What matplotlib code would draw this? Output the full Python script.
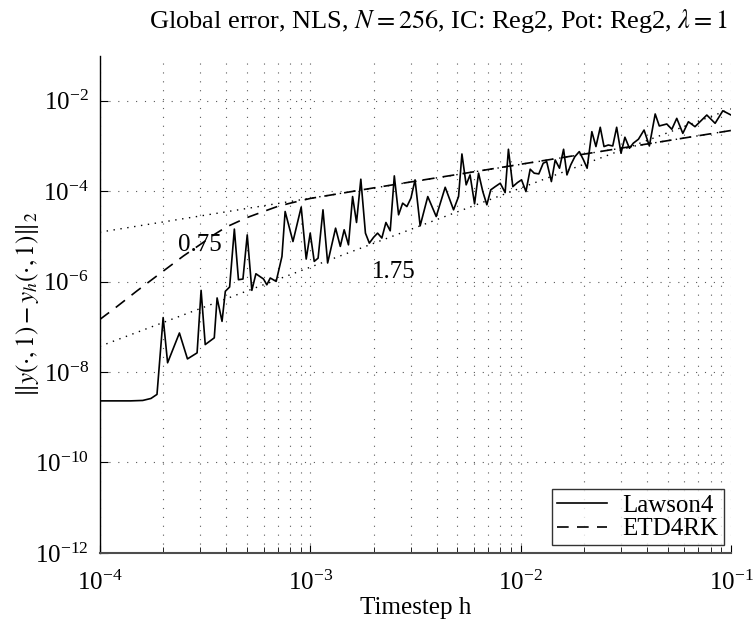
import matplotlib
matplotlib.use('Agg')
import matplotlib.pyplot as plt
import matplotlib.ticker as mticker

# Lawson4 global error vs timestep
lawson_h = [1.0e-4, 1.2e-4, 1.4e-4, 1.6e-4, 1.75e-4, 1.87e-4,
            2.0e-4, 2.1e-4, 2.39e-4, 2.61e-4, 2.9e-4, 3.03e-4, 3.17e-4, 3.5e-4, 3.61e-4, 3.81e-4,
            3.95e-4, 4.14e-4, 4.36e-4, 4.56e-4, 4.79e-4, 5.02e-4, 5.28e-4, 5.52e-4, 6.0e-4, 6.22e-4,
            6.46e-4, 6.89e-4, 7.34e-4, 7.6e-4, 8.28e-4, 9.06e-4, 9.57e-4, 1.0e-3, 1.045e-3, 1.09e-3,
            1.15e-3, 1.21e-3, 1.32e-3, 1.39e-3, 1.45e-3, 1.52e-3, 1.59e-3, 1.66e-3, 1.74e-3, 1.83e-3,
            1.91e-3, 2.0e-3, 2.09e-3, 2.19e-3, 2.29e-3, 2.4e-3, 2.51e-3, 2.63e-3, 2.75e-3, 2.88e-3,
            3.01e-3, 3.15e-3, 3.33e-3, 3.62e-3, 3.97e-3, 4.38e-3, 4.8e-3, 5.07e-3, 5.26e-3, 5.51e-3,
            5.75e-3, 6.04e-3, 6.31e-3, 6.61e-3, 6.91e-3, 7.21e-3, 7.57e-3, 8.0e-3, 8.44e-3, 8.75e-3,
            9.18e-3, 9.66e-3, 1.01e-2, 1.06e-2, 1.11e-2, 1.16e-2, 1.22e-2, 1.28e-2, 1.33e-2, 1.4e-2,
            1.46e-2, 1.53e-2, 1.6e-2, 1.66e-2, 1.73e-2, 1.81e-2, 1.9e-2, 1.99e-2, 2.07e-2, 2.18e-2,
            2.28e-2, 2.39e-2, 2.49e-2, 2.61e-2, 2.74e-2, 2.86e-2, 3.0e-2, 3.13e-2, 3.29e-2, 3.43e-2,
            3.63e-2, 3.86e-2, 4.09e-2, 4.36e-2, 4.56e-2, 4.95e-2, 5.23e-2, 5.52e-2, 5.9e-2, 6.27e-2,
            6.74e-2, 7.67e-2, 8.4e-2, 9.14e-2, 1.0e-1]
lawson_err = [2.3e-9, 2.3e-9, 2.3e-9, 2.35e-9, 2.6e-9, 3.2e-9,
              1.6e-7, 1.6e-8, 7.3e-8, 1.95e-8, 2.65e-8, 6.4e-7, 4.05e-8, 5.7e-8, 4.35e-7, 1.32e-7,
              6.1e-7, 7.6e-7, 1.45e-5, 1.1e-6, 1.14e-6, 1.08e-5, 6.4e-7, 1.49e-6, 1.14e-6, 8.5e-7,
              1.2e-6, 1.01e-6, 3.6e-6, 3.55e-5, 7.7e-6, 4.44e-5, 3.15e-6, 1.18e-5, 2.8e-6, 3.3e-6,
              3.87e-5, 2.58e-6, 1.52e-5, 6.0e-6, 1.4e-5, 6.5e-6, 7.6e-5, 2.03e-5, 1.84e-4, 1.18e-5,
              7.1e-6, 9.5e-6, 1.18e-5, 9.2e-6, 2.03e-5, 1.33e-5, 2.18e-4, 3.0e-5, 5.43e-5, 4.57e-5,
              7.0e-5, 1.78e-4, 1.71e-5, 7.6e-5, 2.75e-5, 1.22e-4, 3.87e-5, 7.6e-5, 6.65e-4, 1.38e-4,
              2.29e-4, 5.25e-5, 2.5e-4, 9.8e-5, 5.0e-5, 1.07e-4, 1.26e-4, 1.5e-4, 9.3e-5, 8.45e-4,
              1.26e-4, 1.55e-4, 1.78e-4, 9.8e-5, 3.06e-4, 2.5e-4, 2.41e-4, 4.15e-4, 4.5e-4, 1.63e-4,
              4.9e-4, 3.22e-4, 8.45e-4, 2.29e-4, 3.81e-4, 5.8e-4, 7.5e-4, 4.9e-4, 3.22e-4, 2.07e-3,
              9.7e-4, 2.59e-3, 9.7e-4, 1.05e-3, 1.0e-3, 2.59e-3, 6.9e-4, 1.56e-3, 8.9e-4, 1.15e-3,
              1.41e-3, 2.25e-3, 1.0e-3, 5.1e-3, 2.77e-3, 3.06e-3, 2.34e-3, 4.08e-3, 1.9e-3, 3.43e-3,
              2.67e-3, 4.83e-3, 3.17e-3, 6.0e-3, 4.83e-3]

# ETD4RK global error
etd_h = [1.0e-4, 1.2e-4, 1.5e-4, 2.0e-4, 2.5e-4, 3.0e-4, 3.5e-4, 4.0e-4, 5.0e-4, 6.0e-4,
         7.0e-4, 8.0e-4, 1.0e-3, 2.0e-3, 5.0e-3, 1.0e-2, 2.0e-2, 5.0e-2, 1.0e-1]
etd_err = [1.45e-7, 2.75e-7, 6.2e-7, 1.7e-6, 3.7e-6, 6.6e-6, 1.1e-5, 1.62e-5, 2.6e-5, 3.55e-5,
           4.6e-5, 5.4e-5, 6.9e-5, 1.18e-4, 2.34e-4, 3.94e-4, 6.6e-4, 1.31e-3, 2.2e-3]

# reference slopes
ref_h = [1.0e-4, 1.0e-1]
ref_075 = [1.24e-5, 2.2e-3]
ref_175 = [3.7e-8, 6.6e-3]

plt.rcParams['font.family'] = ['Liberation Serif', 'DejaVu Serif']
plt.rcParams['mathtext.fontset'] = 'stix'
plt.rcParams['font.size'] = 18

fig = plt.figure(figsize=(7.56, 6.24), dpi=100)
ax = fig.add_axes([0.132, 0.114, 0.835, 0.797])

ax.loglog(lawson_h, lawson_err, '-', color='k', lw=1.2, label='Lawson4')
ax.loglog(etd_h, etd_err, color='k', lw=1.2, dashes=(7, 5), label='ETD4RK')
ax.loglog(ref_h, ref_075, color='k', lw=1.0, linestyle=(0, (1, 4)))
ax.loglog(ref_h, ref_175, color='k', lw=1.0, linestyle=(0, (1, 4)))

ax.text(3.0e-4, 6.5e-6, '0.75', ha='center', va='center', fontsize=18)
ax.text(2.5e-3, 1.6e-6, '1.75', ha='center', va='center', fontsize=18)

ax.set_xlim(1e-4, 1e-1)
ax.set_ylim(1e-12, 1e-1)
ax.yaxis.set_major_locator(mticker.FixedLocator([1e-12, 1e-10, 1e-8, 1e-6, 1e-4, 1e-2]))
ax.yaxis.set_minor_locator(mticker.NullLocator())
ax.xaxis.set_major_locator(mticker.LogLocator(base=10, numticks=10))
ax.xaxis.set_minor_locator(mticker.LogLocator(base=10, subs=range(2, 10), numticks=20))

ax.grid(True, which='major', axis='y', color='0.35', lw=0.8, linestyle=(0, (1, 7)))
ax.grid(True, which='both', axis='x', color='0.35', lw=0.8, linestyle=(0, (1, 7)))

ax.tick_params(which='both', direction='in', top=False, right=False, labelsize=18)
ax.tick_params(which='major', length=6)
ax.tick_params(which='minor', length=4)
ax.tick_params(axis='x', pad=13)
ax.tick_params(axis='y', pad=8)
ax.spines['top'].set_visible(False)
ax.spines['right'].set_visible(False)
ax.spines['bottom'].set_color('0.3')
ax.spines['bottom'].set_linewidth(1.5)
ax.spines['left'].set_linewidth(1.0)

ax.set_xlabel('Timestep h', fontsize=18, labelpad=1)
ax.set_ylabel(r'$\|y(\cdot,1)-y_h(\cdot,1)\|_2$', fontsize=18)
ax.yaxis.set_label_coords(-0.093, 0.5)
ax.set_title(r'Global error, NLS, $N = 256$, IC: Reg2, Pot: Reg2, $\lambda = 1$',
             fontsize=19, pad=20, x=0.537)

leg = ax.legend(loc='lower right', fontsize=18, fancybox=False, edgecolor='k',
                borderaxespad=0.3, handlelength=2.0, borderpad=0.2, labelspacing=0.05,
                handletextpad=0.6)
leg.get_frame().set_linewidth(1.0)

fig.savefig('out.png', dpi=100)
